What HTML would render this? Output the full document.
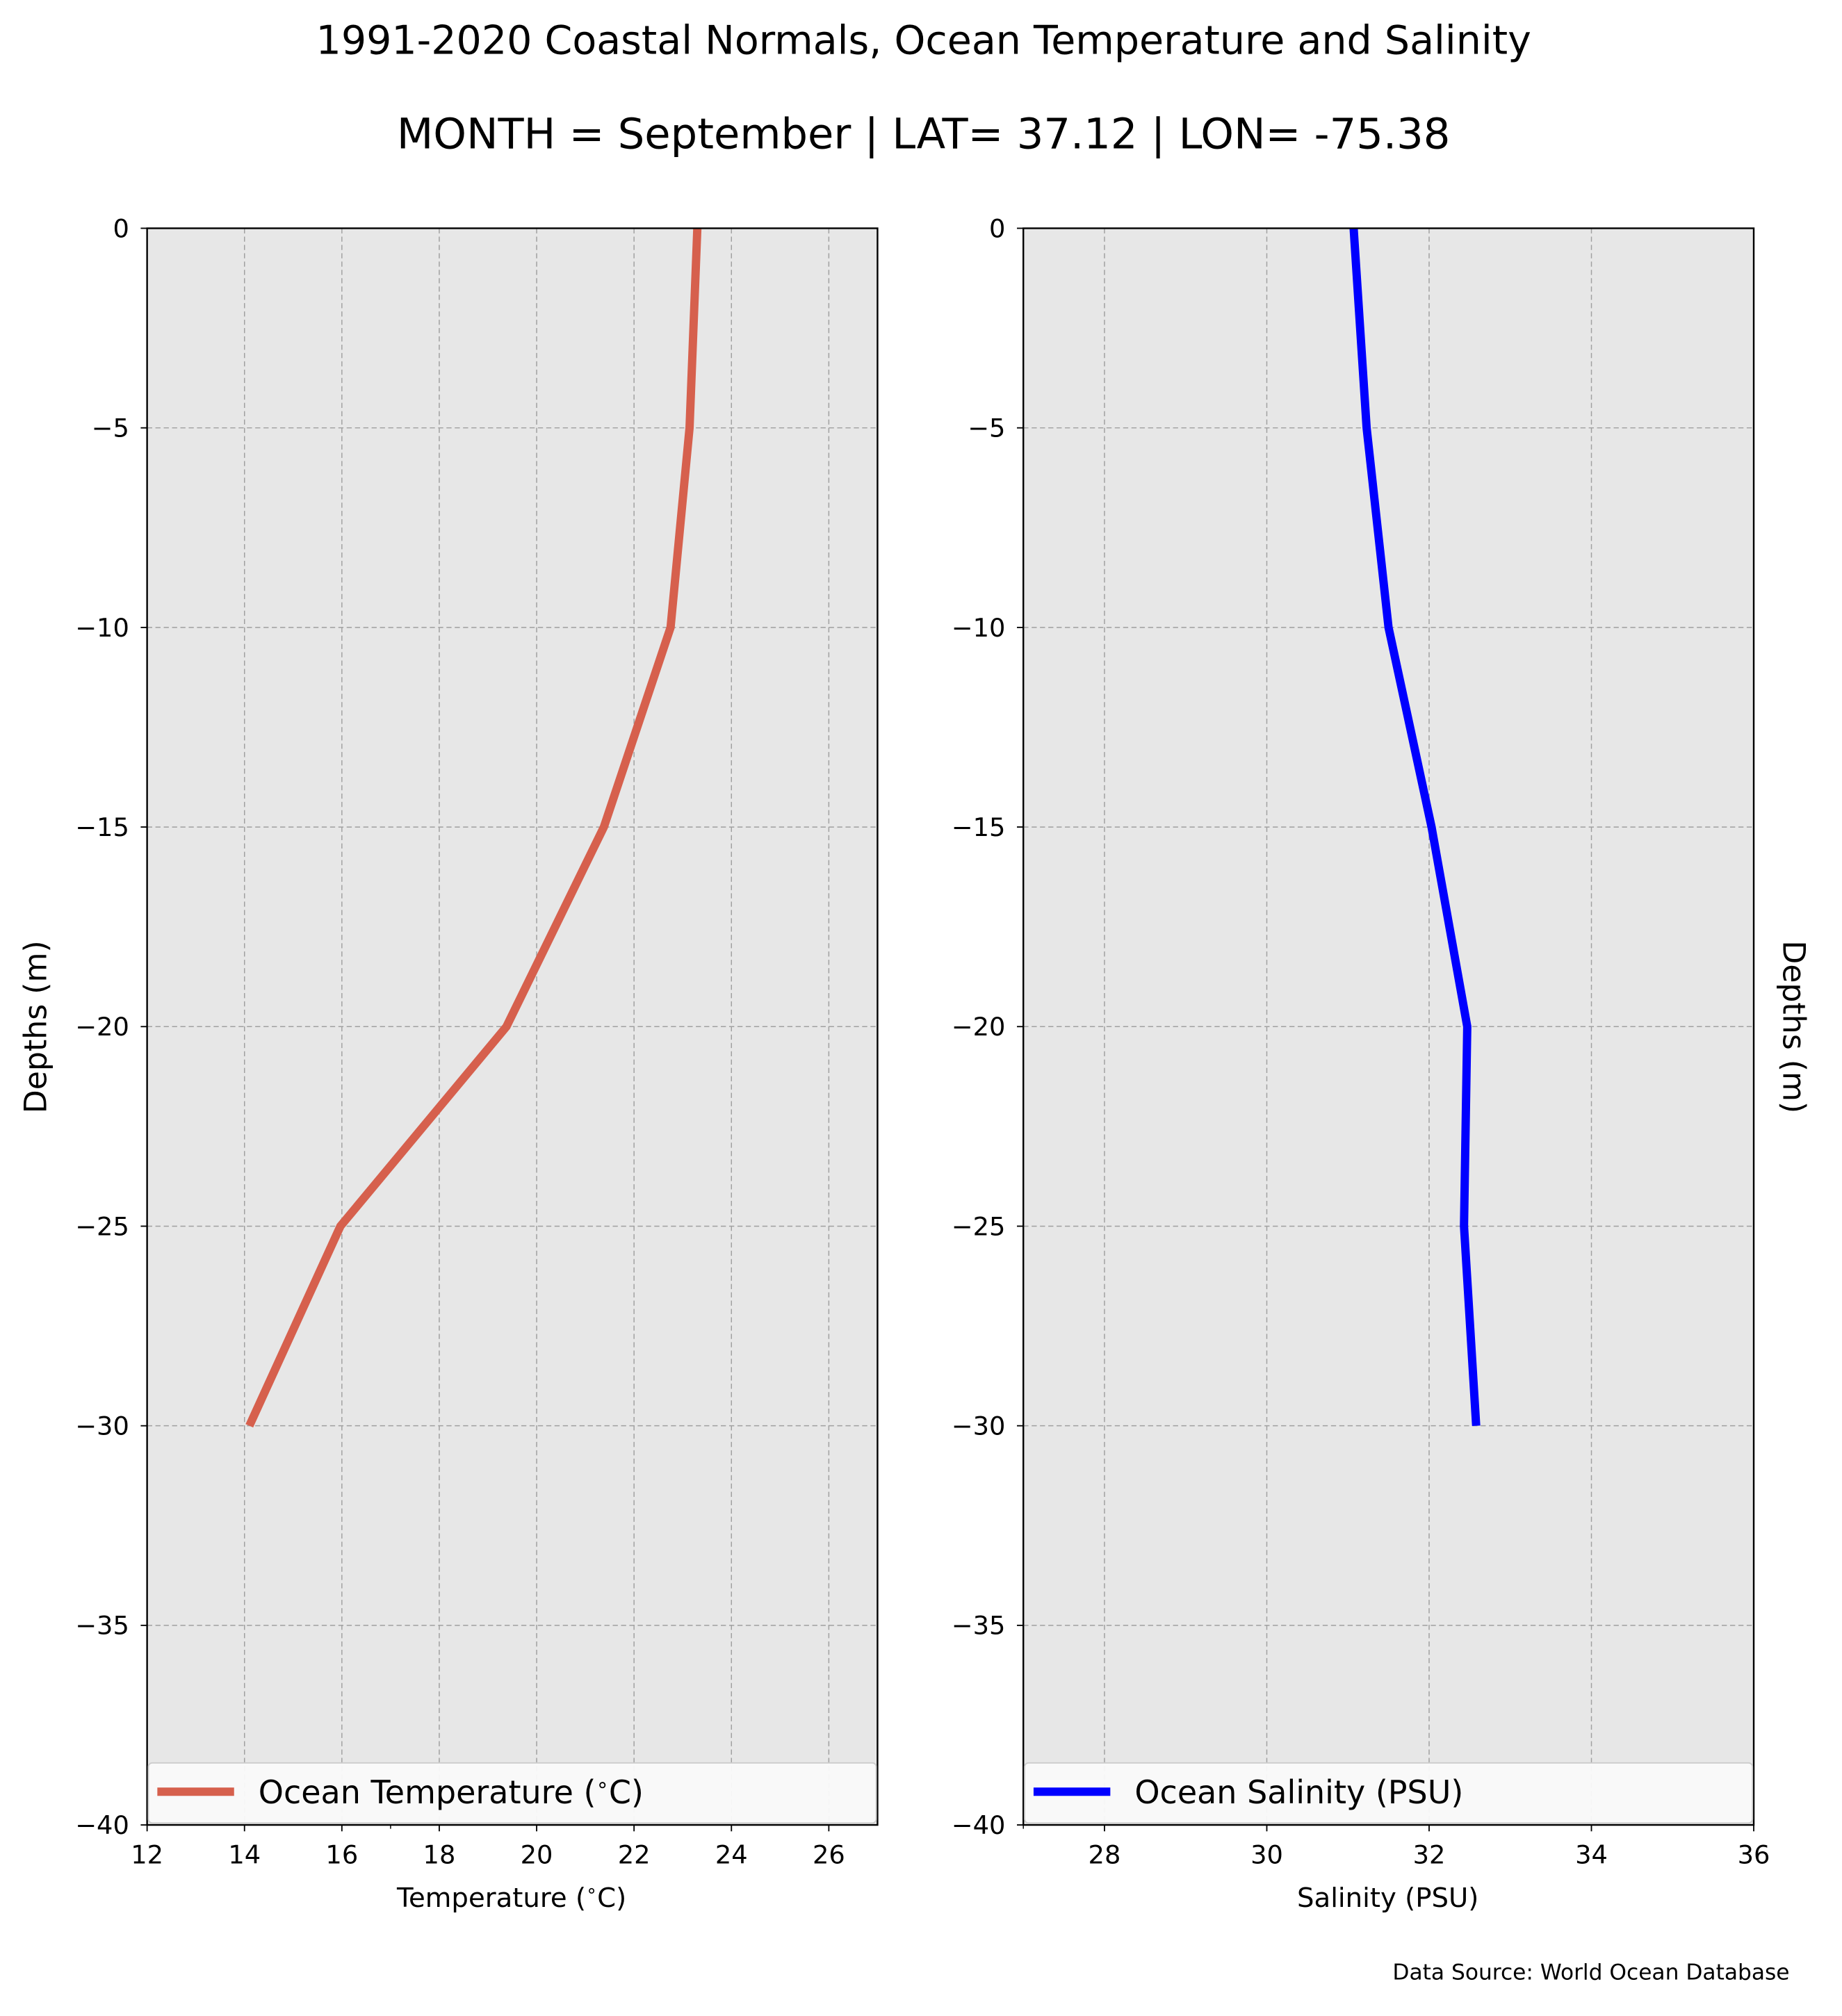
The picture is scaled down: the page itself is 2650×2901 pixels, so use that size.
<!DOCTYPE html>
<html><head><meta charset="utf-8">
<style>
html,body{margin:0;padding:0;background:#fff;}
svg{display:block;font-family:"DejaVu Sans","Liberation Sans",sans-serif;}
</style></head>
<body>
<svg id="chart" width="2650" height="2901" viewBox="0 0 1440 1576.4" preserveAspectRatio="none" xmlns="http://www.w3.org/2000/svg">
<text x="722" y="42" font-size="31" text-anchor="middle">1991-2020 Coastal Normals, Ocean Temperature and Salinity</text>
<text x="722" y="116" font-size="33" text-anchor="middle">MONTH = September | LAT= 37.12 | LON= -75.38</text>
<text x="1399" y="1548" font-size="17" text-anchor="end">Data Source: World Ocean Database</text>
<text transform="translate(36,803) rotate(-90)" font-size="24" text-anchor="middle">Depths (m)</text>
<text transform="translate(1394,803) rotate(90)" font-size="24" text-anchor="middle">Depths (m)</text>
<text x="400" y="1491" font-size="21" text-anchor="middle">Temperature (<tspan baseline-shift="super" font-size="14">∘</tspan>C)</text>
<text x="1085" y="1491" font-size="21" text-anchor="middle">Salinity (PSU)</text>
<g id="panels"></g>
</svg>
<script>
const depths = [0, -5, -10, -15, -20, -25, -30];
const temperature = [23.3, 23.14, 22.75, 21.38, 19.38, 15.97, 14.1];
const salinity = [31.07, 31.23, 31.5, 32.03, 32.47, 32.43, 32.58];
const yTicks = [0, -5, -10, -15, -20, -25, -30, -35, -40];
const tempTicks = [12, 14, 16, 18, 20, 22, 24, 26];
const salTicks = [28, 30, 32, 34, 36];

const NS = "http://www.w3.org/2000/svg";
const root = document.getElementById('panels');
function mk(tag, attrs, parent){const e=document.createElementNS(NS,tag);for(const k in attrs)e.setAttribute(k,attrs[k]);(parent||root).appendChild(e);return e;}
const plotTop = 178.5, plotBot = 1427;
function yS(v){return plotTop + (0 - v) / 40 * (plotBot - plotTop);}

function panel(name, x0, x1, xmin, xmax, xticks, minor, vals, color, legendText){
  const g = mk('g', {});
  
  
  const xS = v => x0 + (v - xmin) / (xmax - xmin) * (x1 - x0);
  const bg = mk('rect', {x:x0, y:plotTop, width:x1-x0, height:plotBot-plotTop, fill:'#e7e7e7'}, g);
  
  
  xticks.forEach(t => {
    const x = xS(t);
    if (t > xmin && t < xmax) {
      const gl = mk('line', {x1:x, x2:x, y1:plotTop, y2:plotBot, stroke:'#a0a0a0', 'stroke-width':0.8, 'stroke-dasharray':'4,2.5'}, g);
      
      
    }
    const tk = mk('line', {x1:x, x2:x, y1:plotBot, y2:plotBot+5, stroke:'#000', 'stroke-width':1}, g);
    
    
    const tl = mk('text', {x:x, y:plotBot+30, 'font-size':20, 'text-anchor':'middle'}, g);
    tl.textContent = t;
    
    
  });
  minor.forEach(t => {
    const x = xS(t);
    const mt = mk('line', {x1:x, x2:x, y1:plotBot, y2:plotBot+3, stroke:'#000', 'stroke-width':0.8}, g);
    
    
  });
  yTicks.forEach(t => {
    const y = yS(t);
    if (t < 0 && t > -40) {
      const gl = mk('line', {x1:x0, x2:x1, y1:y, y2:y, stroke:'#a0a0a0', 'stroke-width':0.8, 'stroke-dasharray':'4,2.5'}, g);
      
      
    }
    const tk = mk('line', {x1:x0-5, x2:x0, y1:y, y2:y, stroke:'#000', 'stroke-width':1}, g);
    
    
    const tl = mk('text', {x:x0-14, y:y+7, 'font-size':20, 'text-anchor':'end'}, g);
    tl.textContent = t < 0 ? '\u2212' + Math.abs(t) : String(t);
    
    
  });
  const pts = vals.map((v,i) => xS(v).toFixed(2) + ',' + yS(depths[i]).toFixed(2)).join(' ');
  const line = mk('polyline', {points:pts, fill:'none', stroke:color, 'stroke-width':6.5, 'stroke-linejoin':'miter'}, g);
  
  
  const frame = mk('rect', {x:x0, y:plotTop, width:x1-x0, height:plotBot-plotTop, fill:'none', stroke:'#000', 'stroke-width':1.3}, g);
  
  
  const lg = mk('g', {}, g);
  
  
  mk('rect', {x:x0+1, y:1378.5, width:x1-x0-2, height:47, rx:3, fill:'#fafafa', 'fill-opacity':0.95, stroke:'#cccccc', 'stroke-width':1}, lg);
  const sw = mk('line', {x1:x0+8, x2:x0+68, y1:1401, y2:1401, stroke:color, 'stroke-width':6.5}, lg);
  
  
  const lt = mk('text', {x:x0+87, y:1410, 'font-size':25}, lg);
  lt.innerHTML = legendText;
  
  
}
panel('temperature', 115, 686, 12, 27, tempTicks, [17], temperature, '#d6604d',
  'Ocean Temperature (<tspan baseline-shift="super" font-size="16">∘</tspan>C)');
panel('salinity', 800, 1371, 27, 36, salTicks, [27], salinity, '#0000ff', 'Ocean Salinity (PSU)');
</script>
</body></html>
